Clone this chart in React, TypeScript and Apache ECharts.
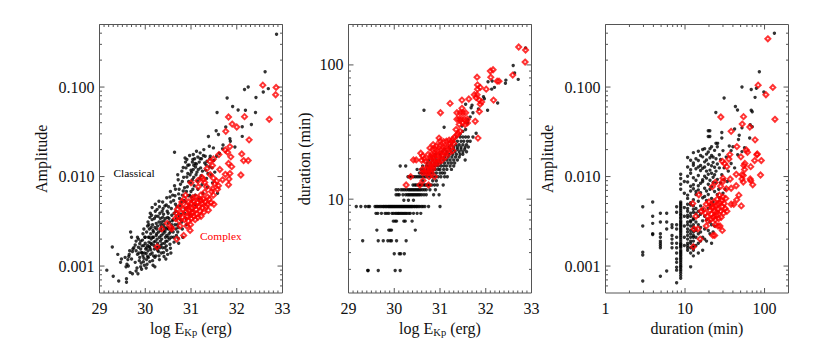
import React, { useEffect, useRef } from "react";
import * as echarts from "echarts";

const classicalEnergyAmp: number[][] = [
[29.16,.0009],[29.3,.00077],[29.42,.00068],[29.59,.00066],[29.59,.00072],[29.28,.00163],[29.4,.00135],[29.46,.0011],[29.48,.0012],[29.58,.00098],[29.6,.00105],[29.62,.00118],[29.63,.001],[29.56,.00125],[29.64,.00128],[29.65,.00135],[29.67,.00085],[29.72,.00082],[29.66,.00148],[29.7,.0012],[29.72,.00145],[29.73,.00155],[29.75,.0016],[29.68,.0024],[29.7,.0021],[29.78,.0011],[29.8,.00088],[29.84,.00082],[29.82,.00095],[29.78,.00172],[29.8,.0019],[29.83,.0021],[29.85,.002],[29.8,.00148],[29.83,.00135],[29.85,.00162],[29.87,.00115],[29.88,.00125],[29.9,.00098],[29.91,.00108],[29.92,.00092],[29.88,.00178],[29.9,.00155],[29.92,.00142],[29.93,.00168],[29.94,.00195],[29.95,.0013],[29.96,.00112],[29.97,.00122],[29.98,.00102],[29.95,.0023],[29.97,.0026],[29.99,.0021],[30,.0018],[30.01,.00155],[30.02,.00138],[30.03,.00118],[30.02,.00095],[30.04,.00105],[30.05,.00128],[30.06,.00148],[30.03,.0024],[30.05,.0028],[30.06,.0031],[30.07,.0021],[30.08,.00185],[30.09,.00165],[30.1,.00112],[30.11,.00135],[30.12,.00152],[30.09,.0026],[30.1,.0035],[30.11,.0039],[30.12,.0023],[30.13,.002],[30.14,.00175],[30.15,.0045],[30.15,.0033],[30.16,.0029],[30.17,.0025],[30.18,.0021],[30.19,.00185],[30.2,.00155],[30.21,.00125],[30.16,.00115],[30.21,.00098],[30.17,.00102],[30.22,.0049],[30.22,.0041],[30.23,.0036],[30.24,.003],[30.25,.0026],[30.25,.0023],[30.26,.002],[30.27,.0018],[30.28,.00162],[30.29,.00145],[30.3,.0013],[30.31,.00118],[30.3,.0053],[30.31,.0046],[30.32,.0039],[30.33,.0034],[30.34,.0029],[30.34,.0025],[30.35,.0022],[30.36,.002],[30.37,.00178],[30.38,.0016],[30.4,.00142],[30.41,.00128],[30.38,.0052],[30.39,.0044],[30.4,.0038],[30.41,.0032],[30.42,.0027],[30.43,.0024],[30.44,.0021],[30.45,.0019],[30.46,.00168],[30.47,.0015],[30.49,.00135],[30.46,.0048],[30.47,.0058],[30.48,.0041],[30.49,.0035],[30.5,.003],[30.51,.0026],[30.52,.0023],[30.53,.002],[30.54,.00175],[30.55,.00158],[30.56,.0014],[30.55,.0068],[30.56,.0052],[30.57,.0044],[30.58,.0037],[30.59,.0032],[30.6,.0027],[30.61,.0024],[30.62,.0021],[30.63,.00185],[30.64,.0079],[30.65,.0061],[30.66,.0049],[30.67,.0041],[30.68,.0034],[30.7,.0029],[30.71,.0024],[30.72,.00205],[30.73,.0018],[30.72,.0092],[30.74,.0072],[30.75,.0057],[30.76,.0047],[30.78,.0038],[30.8,.0031],[30.81,.0026],[30.82,.0021],[30.8,.0115],[30.81,.0088],[30.83,.0069],[30.85,.0054],[30.87,.0044],[30.89,.0034],[30.9,.0029],[30.88,.0145],[30.89,.0125],[30.91,.0099],[30.92,.0077],[30.94,.0061],[30.96,.0048],[30.97,.0038],[30.96,.0135],[30.98,.0105],[30.99,.0085],[31,.0068],[31.02,.0054],[31.03,.0042],[31.04,.0155],[31.05,.012],[31.06,.0098],[31.07,.0079],[31.09,.0062],[31.1,.0048],[31.12,.0138],[31.13,.0112],[31.14,.0089],[31.15,.0072],[31.17,.0056],[31.2,.0158],[31.21,.0125],[31.22,.0102],[31.24,.0081],[31.26,.0065],[31.3,.0142],[31.32,.0118],[31.34,.0095],[31.36,.0076],[31.4,.0129],[31.44,.0105],[31.47,.0085],[31.52,.0112],[31.58,.0065],
[32.87,.39],[32.62,.148],[32.25,.1],[32.17,.094],[32.42,.0766],[32.58,.088],[32.69,.096],[31.79,.0754],[31.91,.0607],[32.03,.0555],[32.19,.055],[32.41,.052],[31.57,.052],[32.32,.0381],[32.12,.036],[31.76,.0358],[31.55,.0325],[31.6,.0295],[31.38,.028],[31.85,.0265],[32.12,.0281],[30.64,.0187],[31.86,.0248],[31.96,.0214],[31.69,.0204],[31.49,.0209],[31.4,.0218],[31.28,.02],[31.2,.0184],[31.12,.0192],[31.05,.0176],[30.91,.0155],[31.03,.0145],[31.09,.014],[31.23,.0158],[31.31,.0169],[31.42,.0169],[31.56,.0169],[31.62,.0182],[31.5,.0152],[31.35,.0148],[31.15,.0165],[31.1,.0128],[31,.0118],[31.7,.0225],
[30.03,.0016],[30.07,.00125],[30.13,.0027],[30.19,.0017],[30.14,.0037],[30.08,.0029],[30.24,.0022],[30.2,.0034],[30.27,.0028],[30.33,.0019],[30.18,.0024],[30.26,.0043],[30.36,.0031],[30.29,.0024],[30.37,.0041],[30.23,.0013],[30.32,.0016],[30.39,.0023],[30.44,.0034],[30.28,.0036],[30.42,.0018],[30.35,.0027],[30.47,.0022],[30.31,.0021],[30.4,.0029],[30.21,.0027],[30.5,.0039],[30.46,.0026],[30.53,.0031],[30.38,.0035],[30.43,.0047],[30.55,.0024],[30.34,.0017],[30.48,.0019],[30.51,.0046],[30.58,.0029],[30.6,.0062],[30.54,.0059],[30.63,.0039],[30.57,.0021],[30.45,.0012],[30.66,.0072],[30.62,.0054],[30.69,.0046],[30.61,.0033],[30.73,.0064],[30.67,.0026],[30.77,.0082],[30.71,.0105],[30.79,.0052],[30.84,.0098],[30.74,.0036],[30.86,.0075],[30.83,.0126],[30.9,.0068],[30.93,.0108],[30.87,.0161],[30.95,.0088],[30.97,.0172],[31.01,.0112],[30.93,.0134],[31.03,.0092],[31.06,.0134],[31.08,.0158],[31.11,.0105],[31.16,.012],[31.18,.0145],[31.19,.0095],[31.25,.0115],[31.27,.0172],[31.33,.0135],[31.37,.0108],[31.41,.0158],[31.46,.0125],[30.97,.0062],[31.04,.0072],[30.88,.0052],[30.81,.0062],[30.86,.0039],[30.92,.0045],[31.01,.0059],[30.77,.0033],[30.72,.0027],[30.68,.0022],[30.65,.0029],[30.52,.0034],[30.49,.0027],[30.41,.0025],[30.3,.0031],[30.22,.0019],[30.16,.0021],[30.12,.0018],[30.09,.0021],[30.05,.0017],[30,.0021],[29.97,.0017],[29.93,.0014],[30.25,.0016],[30.35,.0014],[30.43,.0016],[30.5,.0021],[30.57,.0026],[29.86,.0014],[29.9,.0019],[29.98,.0014],[30.1,.0016],[30.15,.0014],[30.18,.0013],[30.27,.0015]
];
const complexEnergyAmp: number[][] = [
[32.57,.105],[32.86,.099],[32.85,.082],[32.71,.0436],[31.82,.0463],[32.17,.0467],[31.9,.0386],[32,.0358],[31.76,.032],[32.27,.0257],[31.85,.0216],[31.75,.0198],[31.8,.0187],[32.11,.0179],[31.61,.0176],[31.87,.0166],[31.49,.0157],[31.41,.0148],[32.15,.0151],[32.25,.0151],[31.82,.014],[31.89,.0129],[31.47,.0133],[31.35,.0123],[31.63,.012],[31.42,.0105],[31.75,.0106],[31.85,.0108],[32.09,.0104],[31.24,.0098],[31.49,.0096],[31.83,.0094],[31,.0085],[31.15,.009],[31.27,.0093],[31.56,.0089],[31.69,.0092],[31.82,.0081],[31.6,.0079],[31.34,.0077],[31.16,.0077],[31.47,.0073],[31.49,.0062],[30.88,.0062],[31.04,.0058],[31.3,.0086],[31.52,.0083],[31.58,.0072],[31.45,.0068],[31.4,.0056],[31.44,.0051],[31.5,.0049],
[30.26,.00164],[30.69,.002],[30.84,.0022],[30.36,.0026],[30.56,.0027],[30.58,.0026],[30.48,.003],[30.76,.0028],[30.91,.0028],[30.98,.0025],[30.99,.0029],[30.66,.0034],[30.68,.0039],[30.7,.0043],[30.72,.0036],[30.74,.0032],[30.76,.0047],[30.78,.0039],[30.8,.0052],[30.82,.0035],[30.83,.0043],[30.85,.0056],[30.86,.0033],[30.88,.004],[30.9,.0047],[30.92,.0036],[30.94,.0032],[30.95,.0052],[30.96,.0042],[30.98,.0037],[31,.005],[31.01,.0034],[31.02,.0044],[31.04,.004],[31.05,.0053],[31.06,.0036],[31.08,.0047],[31.09,.0033],[31.1,.0059],[31.11,.0043],[31.13,.0038],[31.14,.0051],[31.15,.0035],[31.17,.0046],[31.18,.0056],[31.2,.0041],[31.21,.0062],[31.22,.0036],[31.24,.005],[31.25,.0045],[31.27,.0056],[31.28,.004],[31.3,.0067],[31.31,.0052],[31.33,.0046],[31.36,.0059],[31.38,.0042],[31.36,.0049],[31.22,.0054],[31.1,.0048],[30.93,.0044],[31.02,.0039]
];

const classicalDurRows: [number, number[]][] = [
[2.94,[29.42,29.43,29.65,30.02,30.13]],
[3.92,[30,30.11,30.14,30.22]],
[4.9,[29.31,29.65,29.76,29.86,29.91,29.94,30.05,30.26]],
[5.88,[29.62,29.88,29.91,29.94,30.46]],
[6.86,[29.98,30.02,30.05,30.21,30.24,30.39]],
[7.84,[29.6,29.64,29.72,29.8,29.84,29.88,29.95,29.98,30.02,30.05,30.08,30.1,30.13,30.16,30.19,30.22,30.25,30.28,30.32,30.35,30.42,30.5,30.58]],
[8.82,[29.17,29.27,29.37,29.43,29.46,29.58,29.61,29.64,29.67,29.7,29.73,29.76,29.78,29.81,29.83,29.86,29.88,29.9,29.92,29.94,29.96,29.98,30,30.02,30.04,30.06,30.08,30.1,30.12,30.14,30.16,30.18,30.2,30.22,30.24,30.26,30.28,30.3,30.32,30.34,30.36,30.38,30.4,30.43,30.45,30.48,30.5,30.53,30.56,30.6,30.63,30.67,30.75,31]],
[9.8,[30.21,30.31,30.42]],
[10.78,[30.04,30.08,30.11,30.19,30.25,30.29,30.32,30.35,30.38,30.41,30.44,30.47,30.5,30.53,30.56,30.6,30.65,30.7,30.86,30.98]],
[11.76,[30.04,30.09,30.15,30.19,30.23,30.27,30.31,30.34,30.37,30.4,30.43,30.46,30.49,30.52,30.55,30.58,30.62,30.66,30.7,30.78,30.9]],
[12.74,[30.41,30.45,30.48,30.52,30.55,30.58,30.61,30.65,30.68,30.71,30.74,30.78,30.82,30.88,30.94,31.07]],
[13.72,[30.62,30.84,30.92]],
[14.7,[30.3,30.33,30.37,30.42,30.46,30.5,30.54,30.58,30.63,30.68,30.72,30.78,30.84,30.9,30.96,31.02,31.1,31.16]],
[15.68,[30.55,30.6,30.65,30.7,30.75,30.8,30.85,30.92,31,31.05,31.1]],
[16.66,[30.5,30.58,30.64,30.72,30.78,30.85,30.9,30.96,31,31.08,31.15,31.25]],
[17.64,[30.13,30.25,30.62,30.7,30.76,30.84,30.9,30.96,31.02,31.08,31.14,31.22,31.3]],
[18.62,[30.72,30.8,30.88,30.95,31.02,31.1,31.18,31.25,31.32]],
[19.6,[30.76,30.84,30.92,31,31.08,31.15,31.22,31.3,31.38,31.55]],
[20.58,[30.82,30.9,31.02,31.1,31.18,31.26,31.34,31.42]],
[21.56,[30.9,31,31.12,31.2,31.28,31.36,31.44,31.5]],
[22.54,[31.05,31.15,31.25,31.33,31.42,31.5,31.58]],
[23.52,[31.1,31.22,31.3,31.38,31.46,31.54]],
[24.5,[31.2,31.3,31.38,31.46,31.55,31.62]],
[25.48,[31.25,31.35,31.42,31.5,31.58]],
[27,[31.3,31.38,31.46,31.52,31.6,31.66]],
[29,[31.36,31.44,31.5,31.56,31.62,31.72]]
];
const classicalEnergyDur: number[][] = [
[32.87,134],[32.6,99],[32.63,87],[32.71,78],[32.44,77],[32.43,73],[32.26,52],[32.05,75],[32.14,76],[32.13,66],[32.19,68],[32.04,46],[31.97,56],[31.95,58],[31.7,50],[31.68,48],[31.56,51],[30.65,46],[31.79,31],[31.09,34.3],[31.48,35],[31.66,41],[31.61,39],[31.5,32],[31.56,33],[31.44,30.5],[31.6,37],[31.72,44],[31.84,47]
];
const complexEnergyDur: number[][] = [
[32.72,136],[32.87,129],[32.86,105],[32.59,84],[31.81,81],[32.16,92],[32.1,90],[32.11,81],[32.25,75.7],[32.29,75.7],[31.82,71],[31.88,68],[31.82,66],[32.01,66],[31.75,60],[31.81,60],[31.79,57],[31.63,55.7],[31.48,54.7],[32.17,54.7],[31.86,54.7],[31.91,53],[31.88,51],[31.22,51.7],[31.48,47.5],[31.86,45],[31.01,44],[31.37,44],[31.44,44],[31.5,44],[31.56,44],[31.37,39.4],[31.42,39.4],[31.47,39.4],[31.53,39.4],[31.6,39.4],[31.77,38],[31.5,37],[31.6,37],[31.42,36],[31.55,36],[31.83,28.5],[31.35,33],[31.4,31],[31.44,32],[31.37,30],[31.32,29],[31.28,28],[31.2,27.5],[30.98,28.5],[31,27],[31.08,26.8],[31.14,27],[31.22,26],[31.26,27],[31.3,26],[30.85,25.5],[30.92,25],[31,25],[31.06,24.6],[31.12,24.5],[31.18,24.5],[31.24,24],[31.28,23],[30.78,24],[30.84,23.5],[30.9,23.5],[30.95,23],[31.02,23],[31.08,22.6],[31.14,22.5],[31.2,22],[30.74,21.5],[30.82,21.5],[30.88,21.5],[30.94,21.5],[31,21.5],[31.06,21],[31.12,20.6],[30.58,22],[30.62,21],[30.66,20],[30.8,20.6],[30.86,20.5],[30.92,20],[30.98,19.6],[31.04,19.5],[30.78,19.5],[30.84,18.6],[30.9,18.6],[30.96,18.6],[30.42,19.6],[30.48,19.6],[30.6,19.5],[30.68,19.2],[30.74,17.6],[30.8,17.6],[30.86,17.6],[30.62,16.7],[30.7,16.7],[30.78,16.7],[30.84,16.7],[30.62,15.7],[30.68,15.7],[30.74,15.7],[30.8,15.7],[30.36,14.7],[30.76,14.7],[30.88,14.7],[30.63,13.75],[30.26,12.75],[30.56,12.75],[30.75,12.75]
];

const classicalAmpColumns: [number, number[]][] = [
[2.94,[.0046,.0028,.00143,.00133,.00068]],
[3.92,[.0052,.0036,.003,.0023,.00225]],
[4.9,[.0039,.0031,.0023,.0021,.0019,.0018,.0017,.0016,.00077]],
[5.88,[.0039,.0031,.0026,.00088]],
[6.86,[.0029,.0027,.0022,.002,.0018,.0016]],
[7.84,[.0046,.004,.0029,.0026,.0021,.0018,.0016,.0014,.0012,.0011,.00097,.0009,.00065]],
[8.82,[.0106,.0095,.0082,.0072,.0052,.005,.0048,.0046,.0044,.0042,.004,.0038,.0037,.0035,.0034,.0032,.0031,.003,.0029,.0028,.0027,.0026,.0025,.0024,.0023,.0022,.0021,.002,.0019,.0018,.00175,.0017,.00165,.0016,.0015,.00145,.0014,.00135,.0013,.00125,.0012,.00115,.0011,.00105,.001,.00097,.00092,.00088,.00083,.00078,.00073]],
[9.8,[.0088,.0065,.0045,.0036,.0028,.0021,.0017]],
[10.78,[.0163,.0128,.0101,.0087,.0062,.0057,.0049,.0044,.0041,.0037,.0035,.0031,.0029,.0026,.0024,.0022,.002,.0018,.0017,.0016,.0015]],
[11.76,[.0152,.0119,.0109,.0078,.0069,.0051,.0048,.0039,.0036,.0032,.0031,.0028,.0025,.0023,.0021,.0019,.0018,.0016,.0014,.00098]],
[12.74,[.0185,.0142,.0134,.0097,.0081,.0073,.0055,.0047,.0043,.004,.0034,.0033,.0029,.0027,.0024,.0022,.0021,.0019,.0017,.0016,.0015,.0013]],
[13.72,[.0158,.0122,.0091,.0068,.0063,.0044,.0039,.0031,.0026,.0025,.0021,.0017]],
[14.7,[.0192,.0151,.0128,.0103,.0079,.0071,.0053,.0041,.0036,.0029,.0023,.0018,.0014]],
[15.68,[.0172,.0133,.0117,.0084,.0066,.0047,.0038,.0027,.0024,.0019]],
[16.66,[.0201,.0166,.0124,.0092,.0088,.0058,.0043,.0032,.0021,.0015]],
[17.64,[.0205,.0146,.0128,.0101,.0074,.006,.0036,.0026,.002]],
[18.62,[.0178,.0153,.0115,.0096,.0069,.0054,.0033,.0019]],
[19.6,[.0325,.028,.0188,.0137,.0106,.0082,.0063,.0044,.0025]],
[20.58,[.0205,.0162,.0118,.0091,.0072,.0048,.0031,.0023]],
[21.56,[.0215,.0172,.0132,.0109,.0077,.0057,.0029,.0018]],
[22.54,[.0165,.0144,.0098,.0086,.0052,.0024]],
[23.52,[.0196,.0127,.0105,.0068,.0028]],
[24.5,[.0235,.0158,.0115,.0085]],
[25.48,[.0215,.0138,.0093,.0063]]
];
const classicalDurAmp: number[][] = [
[133,.4],[86,.148],[52,.1],[68,.094],[79,.097],[98,.088],[31,.0754],[76,.0767],[43,.0607],[45.7,.0555],[24.4,.052],[68,.055],[70,.053],[20.5,.0325],[20.5,.028],[29,.031],[29,.027],[25.7,.0235],[66,.038],[70,.036],[65,.027],[47,.026],[40,.0215],[52,.035],[42,.034],[48,.029],[36,.022],[30,.0195],[27,.0175],[28,.0155],[31,.0125],[33,.0165],[35,.0115],[38,.0195],[27,.0125],[29,.0105],[31,.0092],[34,.0088],[42,.0125],[46,.0175],[52,.019],[56,.021],[38,.014],[26.5,.0072],[28,.0085],[30,.0065],[32,.0072],[27,.0058]
];
const complexDurAmp: number[][] = [
[110,.346],[83,.105],[127,.099],[104,.082],[135,.0436],[28.2,.0463],[54.4,.0467],[52.4,.0386],[65.3,.0358],[38,.032],[76,.0257],[44.9,.0216],[59,.0198],[61,.0187],[81,.0179],[80,.0175],[91,.0151],[75,.0151],[50.4,.0166],[36.6,.0176],[29.4,.0148],[35.6,.0157],[31.4,.014],[33.5,.0129],[56.5,.014],[67,.0129],[55,.0133],[56,.012],[44,.0106],[52,.0105],[54,.0103],[89,.0104],[66,.0094],[52,.0094],[30,.0096],[37,.0094],
[14.9,.00625],[12.5,.005],[13.7,.0036],[12.7,.00164],[15.5,.002],[14.5,.0026],[13,.0026],[18.5,.0028],[29.4,.0025],[22.4,.0022],[23.6,.0022],[38,.0074],[44,.0079],[54,.0087],[71,.0081],[67,.009],[51,.0047],[47.5,.0062],[44.7,.0055],[38,.0049],[41,.0049],[33.6,.0041],[24,.0086],[28,.0078],[30,.0088],[33,.0073],[22,.0077],[16,.0041],[17,.0043],[18,.0039],[18.5,.0049],[19,.0036],[20,.0052],[20.5,.0042],[21,.0033],[21.5,.0038],[22,.0045],[22.5,.0035],[23,.0052],[23.5,.0041],[24,.0033],[24.5,.0047],[25,.0037],[25.5,.0056],[26,.0043],[26.5,.0034],[27,.0062],[27.5,.0051],[28,.0041],[28.5,.0035],[29,.0054],[29.5,.0046],[30,.0059],[30.5,.0039],[31,.005],[32,.0044],[32.5,.0057],[24,.0029],[26,.0028],[27.5,.0028],[22.5,.0046],[23.5,.0036],[25,.004],[26,.0049],[21,.0048],[19.5,.0032]
];

const energyTicks = [29, 30, 31, 32, 33];
const energyLabelled = 1;
const ampMajor = [0.001, 0.01, 0.1];
const ampMinor = [0.0006, 0.0007, 0.0008, 0.0009, 0.002, 0.003, 0.004, 0.005, 0.006, 0.007, 0.008, 0.009, 0.02, 0.03, 0.04, 0.05, 0.06, 0.07, 0.08, 0.09, 0.2, 0.3, 0.4];
const durMajor = [10, 100];
const durMinorY = [3, 4, 5, 6, 7, 8, 9, 20, 30, 40, 50, 60, 70, 80, 90];
const durMajorX = [1, 10, 100];
const durMinorX = [2, 3, 4, 5, 6, 7, 8, 9, 20, 30, 40, 50, 60, 70, 80, 90];
const energyMinor: number[] = [];
for (let i = 291; i < 330; i++) if (i % 10 !== 0) energyMinor.push(i / 10);

const rowsToPairs = (rows: [number, number[]][]) => rows.flatMap(([d, es]) => es.map((e) => [e, d]));
const colsToPairs = (cols: [number, number[]][]) => cols.flatMap(([d, as]) => as.map((a) => [d, a]));

const SERIF = "'Liberation Serif', serif";
const INK = "#111";
const AXIS = "#555";

const decadeLabel = (digits: number) => (v: number) => {
  const l = Math.log10(v);
  return Math.abs(l - Math.round(l)) < 1e-6 ? v.toFixed(digits) : "";
};

const ENERGY_NAME = "log E{sub|Kp} (erg)";
const nameStyle = {
  fontFamily: SERIF, fontSize: 16, color: INK,
  rich: { sub: { fontFamily: SERIF, fontSize: 10.5, color: INK, padding: [7, 0, 0, 0] } },
};

function axisBase(extra: any) {
  return {
    nameLocation: "middle",
    nameTextStyle: nameStyle,
    axisLine: { show: false },
    axisTick: { show: false },
    splitLine: { show: false },
    minorTick: { show: false },
    axisLabel: { fontFamily: SERIF, fontSize: 16, color: INK, margin: 7, hideOverlap: false, showMinLabel: true, showMaxLabel: true },
    ...extra,
  };
}

function tickSeries(idx: number, xMajor: number[], xMinor: number[], yMajor: number[], yMinor: number[], xMin: number, yMin: number) {
  const rows: number[][] = [
    ...xMajor.map((v) => [v, yMin, 5, 0]),
    ...xMinor.map((v) => [v, yMin, 2.5, 0]),
    ...yMajor.map((v) => [xMin, v, 5, 1]),
    ...yMinor.map((v) => [xMin, v, 2.5, 1]),
  ];
  return {
    type: "custom", xAxisIndex: idx, yAxisIndex: idx, silent: true, z: 1, clip: false,
    data: rows,
    renderItem: (params: any, api: any) => {
      const p = api.coord([api.value(0), api.value(1)]);
      const len = api.value(2);
      const isY = api.value(3) === 1;
      const r = params.coordSys;
      const style = { stroke: AXIS, lineWidth: 1 };
      const line = (x1: number, y1: number, x2: number, y2: number) => ({ type: "line", shape: { x1, y1, x2, y2 }, style });
      return {
        type: "group",
        children: isY
          ? [line(r.x, p[1], r.x + len, p[1]), line(r.x + r.width - len, p[1], r.x + r.width, p[1])]
          : [line(p[0], r.y, p[0], r.y + len), line(p[0], r.y + r.height - len, p[0], r.y + r.height)],
      };
    },
  };
}

const black = (idx: number, data: number[][]) => ({
  type: "scatter", xAxisIndex: idx, yAxisIndex: idx, data, symbol: "circle", symbolSize: 3.4, z: 2,
  itemStyle: { color: "#000" }, silent: true,
});
const red = (idx: number, data: number[][]) => ({
  type: "scatter", xAxisIndex: idx, yAxisIndex: idx, data, symbol: "diamond", symbolSize: 5, z: 3,
  itemStyle: { color: "transparent", borderColor: "#f00", borderWidth: 2 }, silent: true,
});

export default function App() {
  const ref = useRef<HTMLDivElement>(null);
  useEffect(() => {
    const chart = echarts.init(ref.current!, undefined, { renderer: "svg" });
    const gridBase = { top: 24.5, height: 268.5, width: 183, show: true, borderColor: AXIS, borderWidth: 1, backgroundColor: "transparent", containLabel: false };
    const energyAxis = (gridIndex: number) => axisBase({
      type: "value", gridIndex, min: 29, max: 33, interval: energyLabelled,
      name: ENERGY_NAME, nameGap: 26,
    });
    chart.setOption({
      animation: false,
      backgroundColor: "#fff",
      grid: [
        { ...gridBase, left: 99.5 },
        { ...gridBase, left: 348.5 },
        { ...gridBase, left: 605.5 },
      ],
      xAxis: [
        energyAxis(0),
        energyAxis(1),
        axisBase({ type: "log", gridIndex: 2, min: 1, max: 200, logBase: 10, name: "duration (min)", nameGap: 26,
          axisLabel: { fontFamily: SERIF, fontSize: 16, color: INK, margin: 7, formatter: decadeLabel(0) } }),
      ],
      yAxis: [
        axisBase({ type: "log", gridIndex: 0, min: 0.0005, max: 0.5, logBase: 10, name: "Amplitude", nameGap: 50,
          axisLabel: { fontFamily: SERIF, fontSize: 16, color: INK, margin: 5, formatter: decadeLabel(3) } }),
        axisBase({ type: "log", gridIndex: 1, min: 2, max: 200, logBase: 10, name: "duration (min)", nameGap: 36,
          axisLabel: { fontFamily: SERIF, fontSize: 16, color: INK, margin: 5, formatter: decadeLabel(0) } }),
        axisBase({ type: "log", gridIndex: 2, min: 0.0005, max: 0.5, logBase: 10, name: "Amplitude", nameGap: 50,
          axisLabel: { fontFamily: SERIF, fontSize: 16, color: INK, margin: 5, formatter: decadeLabel(3) } }),
      ],
      series: [
        tickSeries(0, energyTicks, energyMinor, ampMajor, ampMinor, 29, 0.0005),
        tickSeries(1, energyTicks, energyMinor, durMajor, durMinorY, 29, 2),
        tickSeries(2, durMajorX, durMinorX, ampMajor, ampMinor, 1, 0.0005),
        black(0, classicalEnergyAmp),
        red(0, complexEnergyAmp),
        black(1, [...rowsToPairs(classicalDurRows), ...classicalEnergyDur]),
        red(1, complexEnergyDur),
        black(2, [...colsToPairs(classicalAmpColumns), ...classicalDurAmp]),
        red(2, complexDurAmp),
      ],
      graphic: [
        { type: "text", x: 113.5, y: 167, silent: true, style: { text: "Classical", fontFamily: SERIF, fontSize: 11.4, fill: "#000" } },
        { type: "text", x: 200, y: 230, silent: true, style: { text: "Complex", fontFamily: SERIF, fontSize: 11.4, fill: "#f00" } },
      ],
    });
    return () => chart.dispose();
  }, []);
  return <div ref={ref} style={{ width: 830, height: 346, position: "absolute", left: 0, top: 0 }} />;
}
